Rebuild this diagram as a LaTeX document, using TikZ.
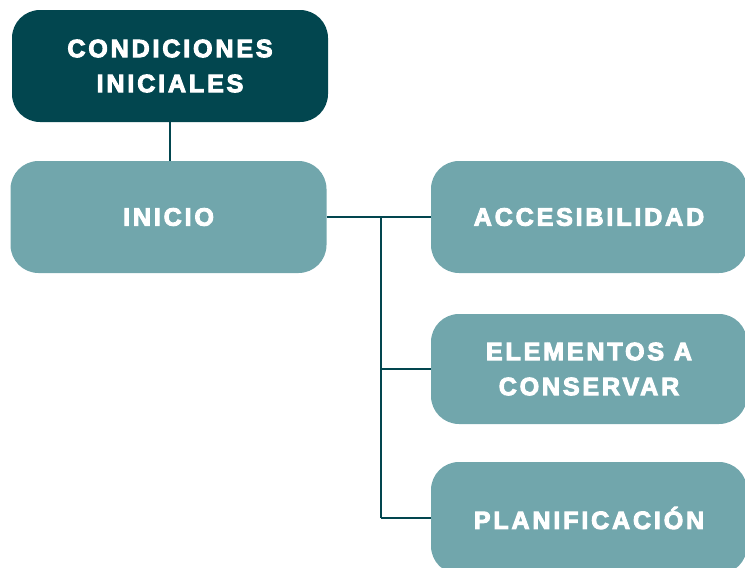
\documentclass[tikz,border=0pt]{standalone}
\usepackage{fontspec}
\newfontfamily\boxfont{Liberation Sans}[LetterSpace=11.5, BoldFont={Liberation Sans Bold}, BoldFeatures={FakeBold=4}]
\definecolor{darkteal}{HTML}{02464F}
\definecolor{lightteal}{HTML}{71A6AC}
\tikzset{
  box/.style={rounded corners=28pt, inner sep=0pt, minimum width=#1, minimum height=112pt,
    text=white, align=center, font=\boxfont\bfseries\fontsize{25pt}{35pt}\selectfont},
  box/.default=316pt,
  topbox/.style={box, fill=darkteal},
  subbox/.style={box, fill=lightteal},
  link/.style={draw=darkteal, line width=2.3pt}
}
\begin{document}
\begin{tikzpicture}[x=1pt,y=-1pt]
\useasboundingbox (0,0) rectangle (745,568);
\clip (0,0) rectangle (745,568);
\node[topbox] (cond) at (170,66) {CONDICIONES\\INICIALES};
\node[subbox] (inicio) at (168.5,217) {INICIO};
\node[subbox={312pt}] (acc) at (589,217) {ACCESIBILIDAD};
\node[subbox={312pt}, minimum height=110pt] (elem) at (589,369) {ELEMENTOS A\\CONSERVAR};
\node[subbox={312pt}] (plan) at (589,518) {PLANIFICACI\'ON};
\coordinate (j1) at (381,217);
\coordinate (j2) at (381,369);
\coordinate (j3) at (381,518);
\draw[link] (cond.south) -- (cond.south |- inicio.north);
\draw[link] (inicio.east) -- (acc.west);
\draw[link] (j1) -- (j3);
\draw[link] (j2) -- (elem.west);
\draw[link] (j3) -- (plan.west);
\end{tikzpicture}
\end{document}
